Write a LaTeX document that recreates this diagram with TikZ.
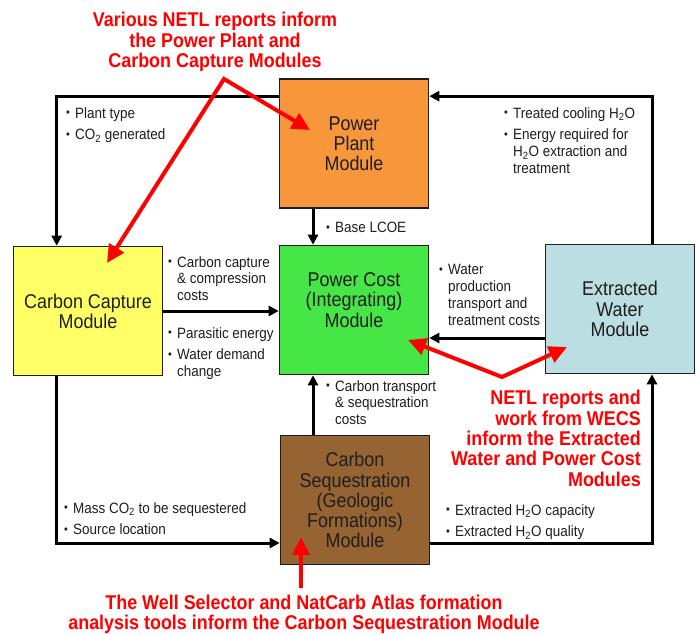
\documentclass[tikz,border=0pt]{standalone}
\usepackage{fontspec}
\setmainfont{Liberation Sans}[FakeStretch=0.9]
\usetikzlibrary{arrows.meta,calc}
\definecolor{plantorange}{RGB}{247,150,58}
\definecolor{captureyellow}{RGB}{255,255,102}
\definecolor{costgreen}{RGB}{70,230,70}
\definecolor{waterblue}{RGB}{187,222,226}
\definecolor{seqbrown}{RGB}{150,100,50}
\definecolor{inkgray}{RGB}{30,30,30}
\newcommand{\bul}{\makebox[9bp][l]{\raisebox{1.2bp}{\fontsize{12}{12}\selectfont •}}}
\newcommand{\ind}{\hspace*{9bp}}

\begin{document}
\begin{tikzpicture}[x=1bp,y=-1bp,
  >={Triangle[length=18bp,width=17bp]},
  module/.style={draw=inkgray,line width=1.6bp,minimum width=149bp,minimum height=129bp,
    inner sep=0pt,align=center,text=inkgray,font=\fontsize{20}{20.2}\selectfont},
  flow/.style={line width=3bp,-{Triangle[length=10bp,width=10bp]}},
  note/.style={anchor=north west,inner sep=0pt,align=left,text=inkgray,font=\fontsize{15}{17}\selectfont},
  remark/.style={text=red,inner sep=0pt,font=\fontsize{20}{20.5}\selectfont\bfseries},
  hint/.style={draw=red,line width=4bp,line join=miter}]
  \useasboundingbox (0,0) rectangle (697,635);
  \fill[white] (0,0) rectangle (697,635);
  % Modules
  \node[module,fill=plantorange] (plant) at (354,143.5) {Power\\Plant\\Module};
  \node[module,fill=captureyellow] (capture) at (88,311) {Carbon Capture\\Module};
  \node[module,fill=costgreen,text depth=20bp] (cost) at (354,310) {Power Cost\\(Integrating)\\Module};
  \node[module,fill=waterblue] (water) at (620,309) {Extracted\\Water\\Module};
  \node[module,fill=seqbrown] (seq) at (355,500) {Carbon\\Sequestration\\(Geologic\\Formations)\\Module};
  % Flows between modules
  \draw[flow] ($(plant.north west)+(0,18)$) -| ($(capture.north west)+(44,0)$);
  \draw[flow] ($(water.north)+(32,0)$) |- ($(plant.north east)+(0,18)$);
  \draw[flow] ($(plant.south)+(-41,0)$) -- ($(cost.north)+(-41,0)$);
  \draw[flow] (capture.east) -- (capture.east -| cost.west);
  \coordinate (waterOut) at ($(water.west)+(0,29)$);
  \draw[flow] (waterOut) -- (waterOut -| cost.east);
  \coordinate (seqOut) at ($(seq.north)+(-42,0)$);
  \draw[flow] (seqOut) -- (seqOut |- cost.south);
  \draw[flow] ($(capture.south west)+(44,0)$) |- ($(seq.west)+(0,43)$);
  \draw[flow] ($(seq.east)+(0,43)$) -| ($(water.south)+(32,0)$);
  % Flow notes
  \node[note] (typeNote) at (66,107) {\bul Plant type\\[5bp]\bul CO\textsubscript{2} generated};
  \node[note] (coolNote) at (504,107) {\bul Treated cooling H\textsubscript{2}O\\[5bp]\bul Energy required for\\\ind H\textsubscript{2}O extraction and\\\ind treatment};
  \node[note] (lcoeNote) at (326,222) {\bul Base LCOE};
  \node[note] (captureNote) at (168,256) {\bul Carbon capture\\\ind\& compression\\\ind costs};
  \node[note] (energyNote) at (168,327) {\bul Parasitic energy\\[5bp]\bul Water demand\\\ind change};
  \node[note] (waterNote) at (439,264) {\bul Water\\\ind production\\\ind transport and\\\ind treatment costs};
  \node[note] (transportNote) at (326,380) {\bul Carbon transport\\\ind\& sequestration\\\ind costs};
  \node[note] (massNote) at (64,502) {\bul Mass CO\textsubscript{2} to be sequestered\\[5bp]\bul Source location};
  \node[note] (qualityNote) at (446,504) {\bul Extracted H\textsubscript{2}O capacity\\[5bp]\bul Extracted H\textsubscript{2}O quality};
  % Data sources
  \node[remark,align=center,anchor=north] (plantRemark) at (215,12) {Various NETL reports inform\\the Power Plant and\\Carbon Capture Modules};
  \node[remark,align=right,anchor=north east] (waterRemark) at (641,390) {NETL reports and\\work from WECS\\inform the Extracted\\Water and Power Cost\\Modules};
  \node[remark,align=center,anchor=north,font=\fontsize{20}{20}\selectfont\bfseries] (seqRemark) at (304,595) {The Well Selector and NatCarb Atlas formation\\analysis tools inform the Carbon Sequestration Module};
  \coordinate (plantApex) at (224,79);
  \coordinate (plantTip) at (310,130);
  \coordinate (captureTip) at (107,263);
  \draw[hint,<->] (captureTip) -- (plantApex) -- (plantTip);
  \coordinate (waterApex) at (502,377);
  \coordinate (costTip) at (408,340);
  \coordinate (waterTip) at (567,347);
  \draw[hint,<->] (costTip) -- (waterApex) -- (waterTip);
  \coordinate (seqBase) at (301,588);
  \coordinate (seqTip) at (301,537);
  \draw[hint,->] (seqBase) -- (seqTip);
\end{tikzpicture}
\end{document}
